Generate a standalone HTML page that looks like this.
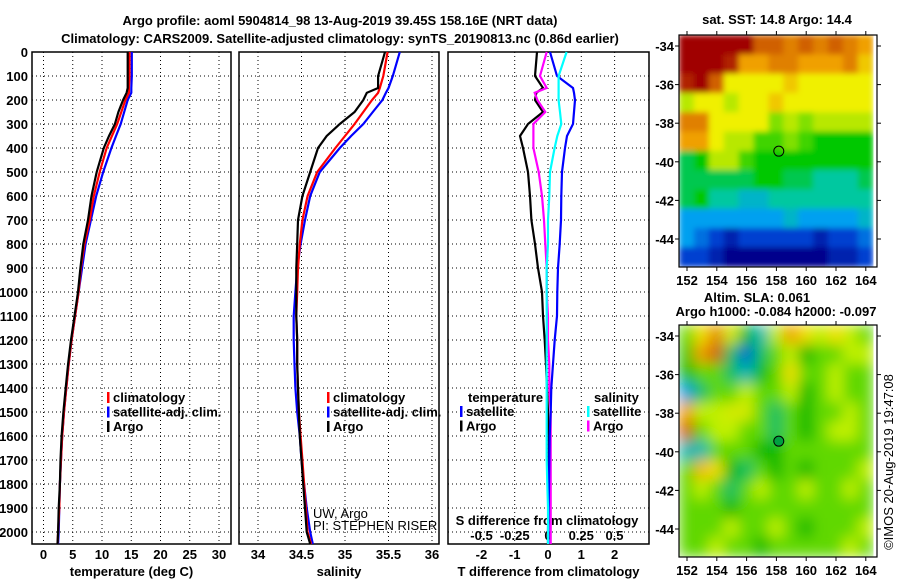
<!DOCTYPE html>
<html><head><meta charset="utf-8">
<style>
html,body{margin:0;padding:0;background:#fff;}
svg{display:block;font-family:"Liberation Sans",Arial,sans-serif;}
text{font-weight:bold;font-size:13px;fill:#000;}
</style></head>
<body>
<svg id="fig" width="900" height="580" viewBox="0 0 900 580" xmlns="http://www.w3.org/2000/svg">
<defs>
<filter id="blurSST" x="0" y="0" width="1" height="1"><feGaussianBlur stdDeviation="3" edgeMode="duplicate"/></filter>
<filter id="blurSLA" x="0" y="0" width="1" height="1"><feGaussianBlur stdDeviation="7" edgeMode="duplicate"/></filter>
</defs>
<text x="340" y="25" text-anchor="middle" font-size="14">Argo profile: aoml 5904814_98 13-Aug-2019 39.45S 158.16E (NRT data)</text>
<text x="340" y="43" text-anchor="middle" font-size="14">Climatology: CARS2009. Satellite-adjusted climatology: synTS_20190813.nc (0.86d earlier)</text>
<text x="777" y="24" text-anchor="middle">sat. SST: 14.8 Argo: 14.4</text>
<text x="757" y="302" text-anchor="middle">Altim. SLA: 0.061</text>
<text x="776" y="316" text-anchor="middle">Argo h1000: -0.084 h2000: -0.097</text>
<text transform="translate(893,462) rotate(-90)" text-anchor="middle" style="font-weight:normal" font-size="12">©IMOS 20-Aug-2019 19:47:08</text>
</svg>
<script>
// ---- data ----
const depthTicks=[0,100,200,300,400,500,600,700,800,900,1000,1100,1200,1300,1400,1500,1600,1700,1800,1900,2000];
const tempTicks=[0,5,10,15,20,25,30];
const salTicks=[34,34.5,35,35.5,36];
const salTickLabels=["34","34.5","35","35.5","36"];
const tdiffTicks=[-2,-1,0,1,2];
const sdiffTicks=[-0.5,-0.25,0,0.25,0.5];
const sdiffTickLabels=["-0.5","-0.25","0","0.25","0.5"];
const profDepths=[0,100,150,170,200,250,300,350,400,500,600,700,800,900,1000,1100,1200,1300,1400,1500,1600,1700,1800,1900,2000,2050];
const tempArgo=[14.4,14.4,14.4,14.2,13.6,12.8,12.2,11.2,10.3,9.1,8.2,7.6,6.8,6.3,5.9,5.3,4.7,4.2,3.8,3.4,3.1,2.9,2.8,2.6,2.5,2.4];
const tempClim=[14.7,14.7,14.6,14.6,14.0,13.3,12.6,11.7,10.8,9.6,8.6,7.9,7.0,6.4,6.0,5.4,4.8,4.3,3.9,3.5,3.2,3.0,2.8,2.7,2.5,2.4];
const tempSat=[15.1,15.1,15.0,15.0,14.4,13.8,13.2,12.4,11.6,10.2,9.0,8.1,7.2,6.6,6.0,5.4,4.8,4.3,3.9,3.5,3.2,3.0,2.8,2.7,2.6,2.5];
const salArgo=[35.46,35.38,35.38,35.25,35.21,35.11,34.94,34.79,34.69,34.60,34.51,34.46,34.45,34.44,34.44,34.44,34.45,34.45,34.46,34.47,34.48,34.50,34.52,34.54,34.56,34.60];
const salClim=[35.49,35.44,35.40,35.38,35.31,35.21,35.11,35.00,34.89,34.68,34.57,34.51,34.48,34.46,34.45,34.44,34.45,34.45,34.46,34.47,34.49,34.51,34.53,34.55,34.57,34.61];
const salSat=[35.63,35.55,35.50,35.47,35.43,35.32,35.21,35.07,34.94,34.71,34.60,34.54,34.49,34.45,34.43,34.41,34.41,34.42,34.43,34.45,34.48,34.50,34.53,34.56,34.60,34.63];
const tdiffArgo=[-0.33,-0.39,-0.15,-0.35,-0.39,-0.15,-0.6,-0.84,-0.75,-0.6,-0.54,-0.5,-0.39,-0.3,-0.18,-0.15,-0.1,-0.06,-0.03,0,0.02,0.02,0.01,0.01,0,0];
const tdiffSat=[0.06,0.27,0.75,0.78,0.81,0.78,0.75,0.57,0.51,0.42,0.40,0.39,0.35,0.3,0.28,0.27,0.2,0.15,0.1,0.08,0.05,0.04,0.03,0.02,0.01,0.01];
const sdiffArgo=[-0.01,-0.06,-0.01,-0.1,-0.08,-0.02,-0.11,-0.11,-0.11,-0.07,-0.045,-0.03,-0.02,-0.01,-0.01,0,0,0.01,0.01,0.02,0.02,0.02,0.02,0.02,0.02,0.02];
const sdiffSat=[0.14,0.08,0.08,0.08,0.08,0.09,0.1,0.07,0.05,0.015,0.01,0,0,-0.01,-0.01,-0.01,-0.01,-0.01,-0.01,-0.01,-0.01,-0.01,-0.005,0,0,0];
const lonTicks=[152,154,156,158,160,162,164];
const latTicks=[-34,-36,-38,-40,-42,-44];
const gridLon0=151.46, gridLat0=-33.43;
const sstGrid=[
[19,19,19,19,19,17,17,16.5,17,16.5,17,16.5,16],
[19,19,19,18,16,16,16.5,16.5,16,16,16,16.5,15.5],
[18,19,17,15,15,15,15,15.5,15,15,15,15,15],
[14.5,15,15,14.5,15,15,15.5,15,15,15,15,15,15],
[16.5,16.5,15,15,15,15,14,14.5,14,14.5,14.5,14.5,14.5],
[16,16,15,14.5,14.5,13.5,13.5,14,13.5,13,13,13,13],
[12.5,13,14.5,14.5,13.5,13,13,13,13,13,13,13,13],
[12.5,12.5,12.5,12.5,12.5,13,13,12.5,12.5,12,12,12,12.5],
[12.5,13,12,12,11.5,11.5,12,12,12,12,12,12,12],
[11,11,11,11,11,11,11,11.5,11,11,11,11,11.5],
[11,10.5,10,9.5,10,10,10,10,10,9.5,10,10,10.5],
[10,10,9.5,9,9,9,9,9,9,9,9.5,9.5,10]];
const slaGrid=[
[0.05,0.15,0.22,0.12,0,-0.1,0.1,0.2,0.15,0.1,0.15,0.1,0.05],
[0.02,0.2,0.25,-0.05,-0.2,-0.05,0.05,0.1,0.0,0.05,0.05,0.1,0.1],
[0,0.05,0.05,-0.05,-0.1,0,0.05,0.15,0.05,0.05,0.1,0.05,0.05],
[-0.15,-0.05,0.05,0.05,0.1,0.05,0.05,0.1,0.0,0.05,0.1,0.05,0.05],
[0.2,0.1,0.1,0.12,0.12,0.05,-0.05,0.05,0.0,0.05,0.05,0.1,0.05],
[0.25,0.05,0.1,0.1,0.05,0.05,-0.05,0.05,0.0,0.05,0.1,0.1,0.05],
[-0.1,-0.1,0.05,0.05,0.05,0.0,0.0,0.05,0.05,0.05,0.05,0.05,0.05],
[0.05,0.18,0.15,0.0,-0.05,0.05,0.0,0.05,0.0,0.05,0.05,0.05,0.1],
[0.05,0.1,0.05,-0.05,0.05,0.1,0.05,0.05,0.1,0.05,0.05,0.1,0.05],
[0.05,0.05,0.05,0.0,0.05,0.05,0.05,0.05,0.05,0.05,0.05,0.05,0.05],
[0.05,0.05,0.05,0.1,0.05,0.05,0.1,0.05,0.0,0.05,0.05,0.05,0.1],
[0.05,0.05,0.1,0.05,0.05,0.0,0.05,0.05,0.05,0.05,0.05,0.1,0.05]];
const argoLon=158.16, argoLat=-39.45;

// ---- helpers ----
const NS='http://www.w3.org/2000/svg';
const svg=document.getElementById('fig');
function mk(tag,attrs,parent){const e=document.createElementNS(NS,tag);for(const k in attrs)e.setAttribute(k,attrs[k]);(parent||svg).appendChild(e);return e;}
const yD=d=>52+d*0.24;
const xT=t=>43.5+t*5.85;
const xS=s=>258+(s-34)*87;
const xTd=d=>548+d*33.3;
const xSd=d=>548+d*133;
const frames=[{x0:32,x1:231},{x0:239,x1:439},{x0:448,x1:649}];
const TOP=52,BOT=544;

function panel(idx,name,ticks,labels,xf,xlabel,xlabY){
  const f=frames[idx];
  const g=mk('g',{});
  
  
  depthTicks.forEach(d=>{const l=mk('line',{x1:f.x0,x2:f.x1,y1:yD(d),y2:yD(d),stroke:'#000','stroke-width':1,'stroke-dasharray':'1,3'},g);
    });
  ticks.forEach((t,i)=>{const x=xf(t);
    const l=mk('line',{x1:x,x2:x,y1:TOP,y2:BOT,stroke:'#000','stroke-width':1,'stroke-dasharray':'1,3'},g);
    
    const tx=mk('text',{x:x,y:xlabY,'text-anchor':'middle'},g);tx.textContent=labels[i];
    });
  const r=mk('rect',{x:f.x0,y:TOP,width:f.x1-f.x0,height:BOT-TOP,fill:'none',stroke:'#000','stroke-width':1.5},g);
  
  if(xlabel){const t=mk('text',{x:(f.x0+f.x1)/2,y:576,'text-anchor':'middle'},g);t.textContent=xlabel;
    }
  return g;
}
function line(g,vals,xf,color,name,w){
  const pts=vals.map((v,i)=>xf(v).toFixed(1)+','+yD(profDepths[i]).toFixed(1)).join(' ');
  const p=mk('polyline',{points:pts,fill:'none',stroke:color,'stroke-width':w||2.2,'stroke-linejoin':'miter'},g);
  
}
function legend(g,x,y,items,name){
  items.forEach((it,i)=>{const yy=y+i*14.5;
    const b=mk('rect',{x:x,y:yy-10,width:2.5,height:11,fill:it[1]},g);
    
    const t=mk('text',{x:x+6,y:yy},g);t.textContent=it[0];t.setAttribute('font-size','12');
    });
}
depthTicks.forEach(d=>{const t=mk('text',{x:28,y:yD(d)+5,'text-anchor':'end'});t.textContent=String(d);
  });

const p1=panel(0,'temperature-panel',tempTicks,tempTicks.map(String),xT,'temperature (deg C)',559);
line(p1,tempSat,xT,'#0000ff','satellite-temperature-line');
line(p1,tempClim,xT,'#ff0000','climatology-temperature-line');
line(p1,tempArgo,xT,'#000000','argo-temperature-line');
legend(p1,107,402,[['climatology','#ff0000'],['satellite-adj. clim.','#0000ff'],['Argo','#000']],'temperature-legend');

const p2=panel(1,'salinity-panel',salTicks,salTickLabels,xS,'salinity',559);
line(p2,salSat,xS,'#0000ff','satellite-salinity-line');
line(p2,salClim,xS,'#ff0000','climatology-salinity-line');
line(p2,salArgo,xS,'#000000','argo-salinity-line');
legend(p2,327,402,[['climatology','#ff0000'],['satellite-adj. clim.','#0000ff'],['Argo','#000']],'salinity-legend');
[['UW, Argo',518],['PI: STEPHEN RISER',530]].forEach(c=>{const t=mk('text',{x:313,y:c[1],'font-size':'12',style:'font-weight:normal'},p2);t.textContent=c[0];
  });

const p3=panel(2,'difference-panel',tdiffTicks,tdiffTicks.map(String),xTd,'T difference from climatology',559);
sdiffTicks.forEach((s,i)=>{const t=mk('text',{x:xSd(s),y:540,'text-anchor':'middle','font-size':'12'},p3);t.textContent=sdiffTickLabels[i];
  });
{const t=mk('text',{x:547,y:525,'text-anchor':'middle','font-size':'12'},p3);t.textContent='S difference from climatology';
 }
line(p3,tdiffArgo,xTd,'#000000','argo-t-diff-line');
line(p3,sdiffArgo,xSd,'#ff00ff','argo-s-diff-line');
line(p3,tdiffSat,xTd,'#0000ff','satellite-t-diff-line');
line(p3,sdiffSat,xSd,'#00ffff','satellite-s-diff-line');
{const t=mk('text',{x:468,y:402,'font-size':'12'},p3);t.textContent='temperature';
 const s=mk('text',{x:594,y:402,'font-size':'12'},p3);s.textContent='salinity';}
legend(p3,460,416,[['satellite','#0000ff'],['Argo','#000']],'t-diff-legend');
legend(p3,587,416,[['satellite','#00ffff'],['Argo','#ff00ff']],'s-diff-legend');

// ---- maps ----
function interp(stops,v){
  if(v<=stops[0][0]){const c=stops[0][1];return 'rgb('+c.join(',')+')';}
  for(let i=1;i<stops.length;i++){if(v<=stops[i][0]){const a=stops[i-1],b=stops[i],f=(v-a[0])/(b[0]-a[0]);
    return 'rgb('+[0,1,2].map(k=>Math.round(a[1][k]+(b[1][k]-a[1][k])*f)).join(',')+')';}}
  const c=stops[stops.length-1][1];return 'rgb('+c.join(',')+')';
}
const sstStops=[[9,[0,0,140]],[10,[0,64,208]],[11,[0,160,240]],[12,[0,200,160]],[13,[0,200,0]],[14,[128,224,0]],[15,[240,240,0]],[16,[240,160,0]],[17,[208,96,0]],[18,[176,32,0]],[19,[160,0,0]]];
const slaStops=[[-0.25,[0,48,192]],[-0.15,[0,160,224]],[-0.08,[0,192,160]],[0,[0,184,0]],[0.05,[96,216,0]],[0.1,[192,240,0]],[0.15,[240,224,0]],[0.2,[240,160,0]],[0.25,[208,96,0]],[0.3,[176,48,0]]];
function map(name,top,bot,grid,stops,fillMarker,filt){
  const x0=679,x1=877;
  const xL=lon=>687+(lon-152)*14.9;
  const yL=lat=>(top+11)+(-34-lat)*19.3;
  const g=mk('g',{});
  const cp=mk('clipPath',{id:name+'-clip'},g);mk('rect',{x:x0,y:top,width:x1-x0,height:bot-top},cp);
  const outer=mk('g',{'clip-path':'url(#'+name+'-clip)'},g);
  const cg=mk('g',{filter:'url(#'+filt+')'},outer);
  grid.forEach((row,r)=>row.forEach((v,c)=>{
    const x=xL(gridLon0+c),y=yL(gridLat0-r);
    const cell=mk('rect',{x:x.toFixed(1),y:y.toFixed(1),width:15.4,height:19.8,fill:interp(stops,v)},cg);
    }));
  const fr=mk('rect',{x:x0,y:top,width:x1-x0,height:bot-top,fill:'none',stroke:'#000','stroke-width':1.2},g);
  
  lonTicks.forEach(l=>{const x=xL(l);mk('line',{x1:x,x2:x,y1:top,y2:top-4,stroke:'#000'},g);mk('line',{x1:x,x2:x,y1:bot,y2:bot+4,stroke:'#000'},g);
    const t=mk('text',{x:x,y:bot+18,'text-anchor':'middle'},g);t.textContent=String(l);
    });
  latTicks.forEach(l=>{const y=yL(l);mk('line',{x1:x1,x2:x1+4,y1:y,y2:y,stroke:'#000'},g);mk('line',{x1:x0,x2:x0-4,y1:y,y2:y,stroke:'#000'},g);
    const t=mk('text',{x:674,y:y+5,'text-anchor':'end'},g);t.textContent=String(l);
    });
  const m=mk('circle',{cx:xL(argoLon),cy:yL(argoLat),r:5,fill:fillMarker,stroke:'#000','stroke-width':1},g);
  
}
map('sst-map',35,267,sstGrid,sstStops,'none','blurSST');
map('sla-map',325,557,slaGrid,slaStops,'#00a040','blurSLA');
</script>
</body></html>
